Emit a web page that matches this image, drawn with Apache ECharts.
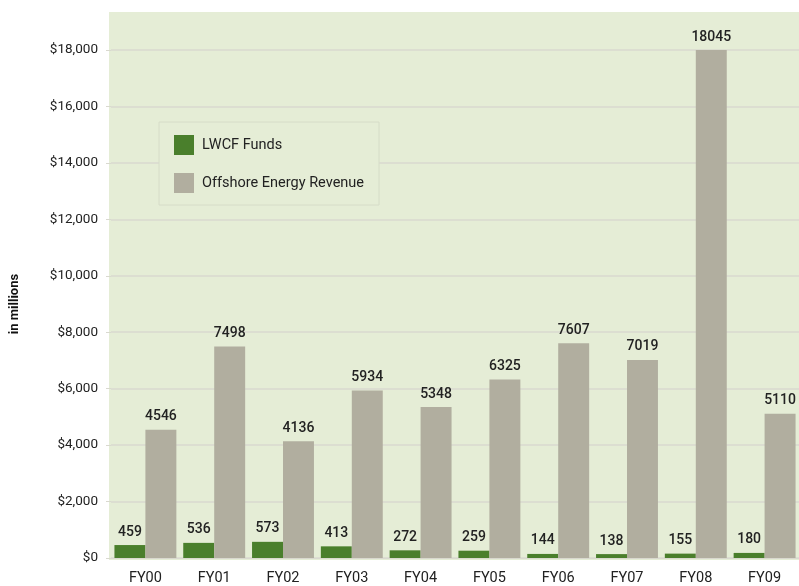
<!DOCTYPE html>
<html>
<head>
<meta charset="utf-8">
<script src="https://cdn.jsdelivr.net/npm/echarts@6/dist/echarts.min.js"></script>
<style>
  html, body { margin: 0; padding: 0; background: #fff; }
  #chart { width: 799px; height: 586px; }
</style>
</head>
<body>
<div id="chart"></div>
<script>
var years = ['FY00', 'FY01', 'FY02', 'FY03', 'FY04', 'FY05', 'FY06', 'FY07', 'FY08', 'FY09']
var lwcfFunds = [459, 536, 573, 413, 272, 259, 144, 138, 155, 180]
var offshoreRevenue = [4546, 7498, 4136, 5934, 5348, 6325, 7607, 7019, 18045, 5110]

var chart = echarts.init(document.getElementById('chart'))
var font = 'Roboto, "Liberation Sans", sans-serif'

var option = {
  animation: false,
  textStyle: { fontFamily: font },
  graphic: [{
    type: 'rect',
    z: -10,
    shape: { x: 109, y: 12, width: 690, height: 548 },
    style: { fill: '#e5edd6' }
  }],
  grid: { left: 109, right: 0, top: 50, bottom: 26 },
  legend: {
    left: 159,
    top: 122,
    orient: 'vertical',
    itemWidth: 20,
    itemHeight: 20,
    itemGap: 18,
    padding: [13, 15, 12, 15],
    borderColor: '#d6dcc8',
    borderWidth: 1,
    backgroundColor: '#e5edd6',
    textStyle: { fontSize: 14.5, color: '#222', fontFamily: font, padding: [0, 0, 0, 3] },
    data: [
      { name: 'LWCF Funds', icon: 'rect' },
      { name: 'Offshore Energy Revenue', icon: 'rect' }
    ]
  },
  xAxis: {
    type: 'category',
    data: years,
    axisLine: { lineStyle: { color: '#d9d9cf' } },
    axisTick: { show: false },
    axisLabel: { color: '#222', fontSize: 14.5, margin: 13 }
  },
  yAxis: {
    type: 'value',
    min: 0,
    max: 18000,
    interval: 2000,
    name: 'in millions',
    nameLocation: 'middle',
    nameGap: 90,
    nameTextStyle: { fontWeight: 'bold', fontSize: 13, color: '#111' },
    axisLine: { show: false },
    axisTick: { show: true, length: 5, lineStyle: { color: '#d9d9cf' } },
    axisLabel: {
      color: '#222',
      fontSize: 13.5,
      margin: 13,
      formatter: function(v) {
        return '$' + v.toLocaleString('en-US')
      }
    },
    splitLine: { lineStyle: { color: '#d9d9cf', width: 1.5 } }
  },
  series: [{
    name: 'LWCF Funds',
    type: 'bar',
    data: lwcfFunds,
    barGap: '0%',
    barCategoryGap: '10%',
    itemStyle: { color: '#4a7f2c' },
    label: { show: true, position: 'top', distance: 6, color: '#222', fontSize: 14, fontWeight: 500 }
  }, {
    name: 'Offshore Energy Revenue',
    type: 'bar',
    data: offshoreRevenue,
    itemStyle: { color: '#b1ae9f' },
    label: { show: true, position: 'top', distance: 6, color: '#222', fontSize: 14, fontWeight: 500 }
  }]
}

chart.setOption(option)
</script>
</body>
</html>
